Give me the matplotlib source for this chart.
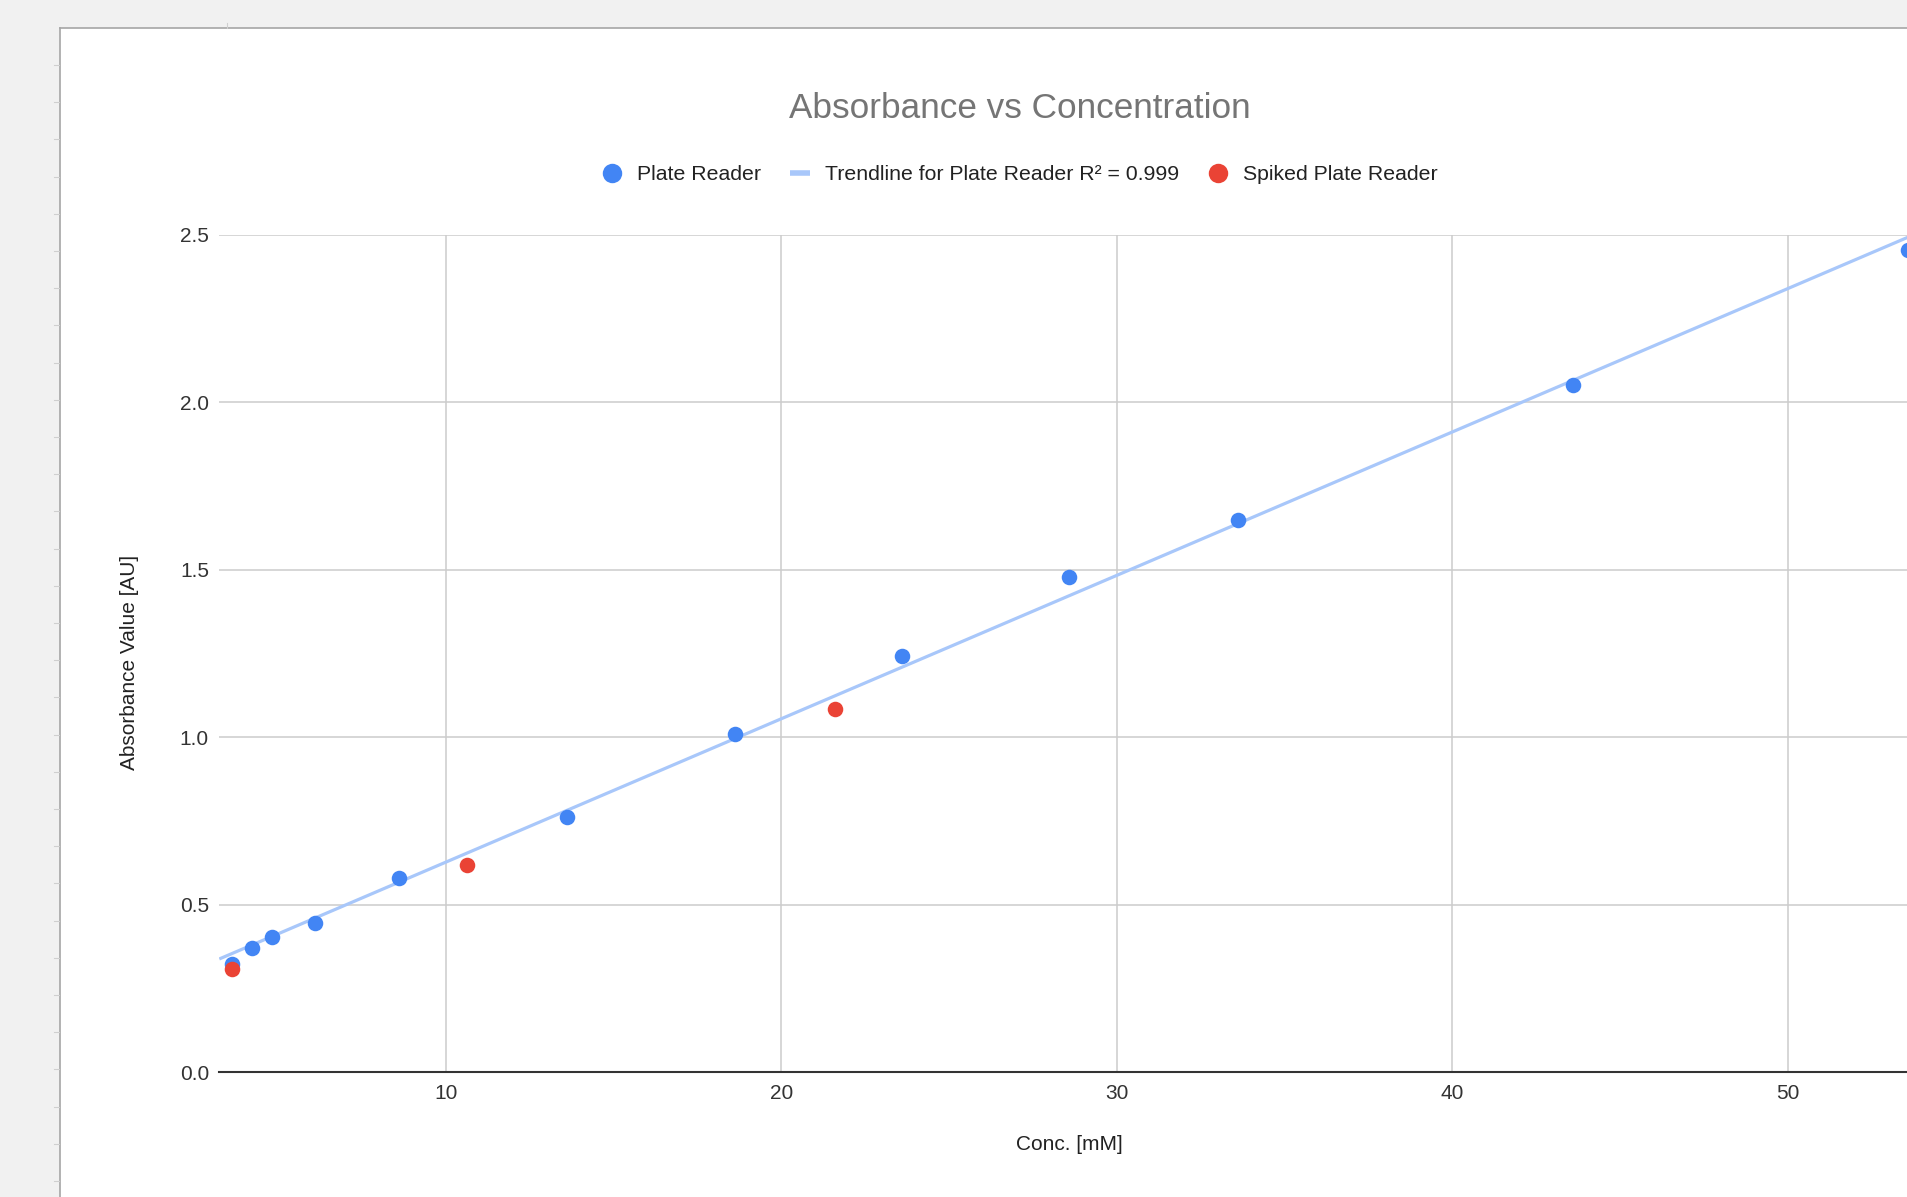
import numpy as np
import matplotlib
matplotlib.use("Agg")
import matplotlib.pyplot as plt
from matplotlib.lines import Line2D
from matplotlib.patches import Rectangle

# ---- data ----
plate_conc = [3.61, 4.21, 4.80, 6.09, 8.60, 13.62, 18.62, 23.60, 28.59, 33.60, 43.60, 53.60]
plate_abs = [0.323, 0.370, 0.402, 0.446, 0.579, 0.763, 1.009, 1.243, 1.479, 1.649, 2.053, 2.455]
spiked_conc = [3.61, 10.62, 21.60]
spiked_abs = [0.307, 0.618, 1.084]
x_ticks = [10, 20, 30, 40, 50]
y_ticks = [0.0, 0.5, 1.0, 1.5, 2.0, 2.5]
x_range = (3.24, 53.95)
y_range = (0.0, 2.5)

title = "Absorbance vs Concentration"
xlabel = "Conc. [mM]"
ylabel = "Absorbance Value [AU]"
legend_labels = ["Plate Reader", "Trendline for Plate Reader R\u00b2 = 0.999", "Spiked Plate Reader"]

BLUE = "#4285f4"
RED = "#ea4335"
TREND = "#a8c7fa"

plt.rcParams['font.family'] = ['Liberation Sans', 'DejaVu Sans']

W, H = 1908, 1197
fig = plt.figure(figsize=(W / 100, H / 100), dpi=100, facecolor="#f1f1f1")

def fx(px):
    return px / W

def fy(py):
    return 1 - py / H

# chart card (white) with border
card = Rectangle((fx(60), 0), 1.2, fy(28), transform=fig.transFigure,
                 facecolor="white", edgecolor="none", zorder=-10)
fig.patches.append(card)
fig.add_artist(Line2D([fx(60), fx(60)], [0, fy(28)], color="#a6a6a6", lw=1.2,
                      transform=fig.transFigure, zorder=-5))
fig.add_artist(Line2D([fx(60), 1.0], [fy(28), fy(28)], color="#a6a6a6", lw=1.2,
                      transform=fig.transFigure, zorder=-5))
# faint sheet ruler marks on the left edge
for yy in np.arange(65, H, 37.2):
    fig.add_artist(Line2D([fx(54), fx(59)], [fy(yy), fy(yy)], color="#cfcfcf", lw=0.8,
                          transform=fig.transFigure, zorder=-5))
fig.add_artist(Line2D([fx(227), fx(227)], [fy(23), fy(28)], color="#cfcfcf", lw=0.8,
                      transform=fig.transFigure, zorder=-5))

# axes
left_px, right_px, top_px, bottom_px = 219.3, 1920.0, 235.0, 1072.0
ax = fig.add_axes([fx(left_px), fy(bottom_px), (right_px - left_px) / W, (bottom_px - top_px) / H])
ax.set_zorder(1)
ax.set_facecolor("white")
ax.set_xlim(*x_range)
ax.set_ylim(*y_range)
ax.set_xticks(x_ticks)
ax.set_yticks(y_ticks)
ax.set_xticklabels([str(t) for t in x_ticks])
ax.set_yticklabels([f"{t:.1f}" for t in y_ticks])
ax.tick_params(axis="both", length=0, labelsize=15, labelcolor="#333333")
ax.tick_params(axis="x", pad=8.5)
ax.tick_params(axis="y", pad=7.5)
ax.grid(True, color="#cccccc", lw=1.1, zorder=0)
ax.set_axisbelow(True)
for s in ["top", "right", "left"]:
    ax.spines[s].set_visible(False)
ax.spines["bottom"].set_color("#333333")
ax.spines["bottom"].set_linewidth(1.5)
ax.spines["bottom"].set_zorder(1)

# trendline (linear least squares fit of the plate reader series)
slope, intercept = np.polyfit(plate_conc, plate_abs, 1)
xs = np.array(x_range)
ax.plot(xs, slope * xs + intercept, color=TREND, lw=2.3, zorder=2, solid_capstyle="butt")

ax.scatter(plate_conc, plate_abs, s=125, color=BLUE, zorder=3, linewidths=0)
ax.scatter(spiked_conc, spiked_abs, s=125, color=RED, zorder=4, linewidths=0)

# texts
fig.text(fx(1020), fy(108.5), title, ha="center", va="center", fontsize=25.3, color="#757575")
fig.text(fx(1069.6), fy(1145), xlabel, ha="center", va="center", fontsize=15, color="#222222")
fig.text(fx(130), fy(662), ylabel, ha="center", va="center", rotation=90, fontsize=15, color="#222222")

handles = [
    Line2D([], [], ls="none", marker="o", markersize=14, color=BLUE, markeredgewidth=0),
    Line2D([], [], color=TREND, lw=4.0, solid_capstyle="butt"),
    Line2D([], [], ls="none", marker="o", markersize=14, color=RED, markeredgewidth=0),
]
fig.legend(handles, legend_labels, loc="center", bbox_to_anchor=(fx(1020), fy(175)),
           ncol=3, frameon=False, fontsize=15.3, handlelength=0.95, handletextpad=0.7,
           columnspacing=1.35, labelcolor="#222222", borderpad=0)

fig.savefig("out.png", dpi=100, facecolor=fig.get_facecolor())
